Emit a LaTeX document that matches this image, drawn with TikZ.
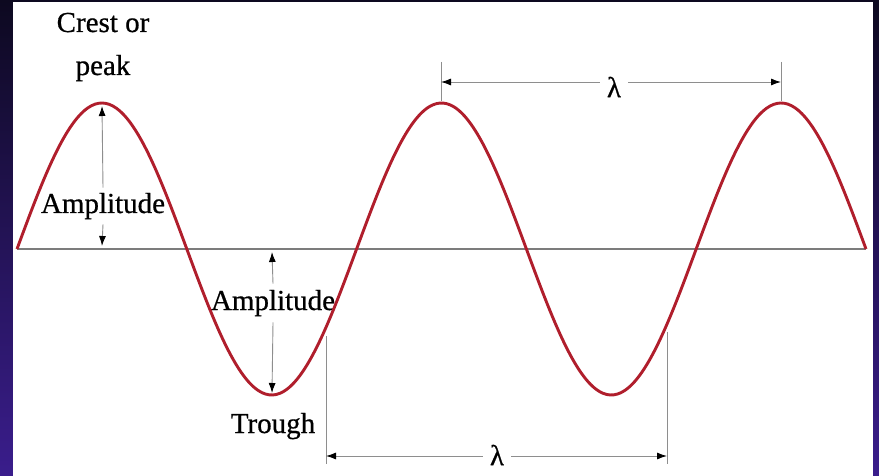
\documentclass[tikz,border=0pt]{standalone}
\usepackage{fontspec}
\setmainfont[FakeBold=0.6]{Liberation Serif}
\usetikzlibrary{arrows.meta}
\definecolor{wavered}{HTML}{B01E2C}
\definecolor{bgtop}{HTML}{0D0920}
\definecolor{bgbot}{HTML}{3A1D8C}
\definecolor{dimgray}{HTML}{8E8E8E}
\definecolor{axisgray}{HTML}{7C7C7C}
\begin{document}
\begin{tikzpicture}[x=1pt,y=-1pt,
  lbl/.style={font=\fontsize{29}{31}\selectfont, text=black, inner sep=0pt},
  lam/.style={font=\fontsize{29}{31}\selectfont, text=black, inner xsep=7pt, inner ysep=0pt},
  dimline/.style={draw=dimgray, line width=0.9pt},
  dimarrow/.style={dimline, -{Latex[length=10pt,width=7pt,color=black]}},
  wave/.style={draw=wavered, line width=2.9pt, line join=round}]
\useasboundingbox (0,0) rectangle (879,476);
% background
\shade[top color=bgtop, bottom color=bgbot] (0,0) rectangle (879,476);
\fill[white] (13,2) rectangle (873,476);
% key points
\coordinate (axL) at (17,249);
\coordinate (axR) at (866,249);
\coordinate (pk1) at (102,106);
\coordinate (ax1) at (102,246);
\coordinate (ax2) at (272,252);
\coordinate (tr1) at (272,393);
\coordinate (t1a) at (441,62);
\coordinate (t1b) at (441,101);
\coordinate (t2a) at (781,62);
\coordinate (t2b) at (781,101);
\coordinate (b1a) at (326,336);
\coordinate (b1b) at (326,464);
\coordinate (b2a) at (667,332);
\coordinate (b2b) at (667,464);
\coordinate (ltl) at (441,82);
\coordinate (ltr) at (781,82);
\coordinate (lbl1) at (326,456);
\coordinate (lbr) at (667,456);
% axis
\draw[draw=axisgray, line width=1.6pt] (axL) -- (axR);
% labels
\node[lbl, anchor=base] (crest) at (103,32) {Crest or};
\node[lbl, anchor=base] (peak) at (103,75) {peak};
\node[lbl, anchor=base, inner ysep=5pt] (amp1) at (103,213) {Amplitude};
\node[lbl, anchor=base, inner ysep=6pt] (amp2) at (273,310) {Amplitude};
\node[lbl, anchor=base] (trough) at (273,433) {Trough};
\node[lam] (lamtop) at (614,87) {λ};
\node[lam] (lambot) at (497,455) {λ};
% amplitude arrows
\draw[dimarrow] (amp1.north) -- (pk1);
\draw[dimarrow] (amp1.south) -- (ax1);
\draw[dimarrow] (amp2.north) -- (ax2);
\draw[dimarrow] (amp2.south) -- (tr1);
% wavelength ticks
\draw[dimline] (t1a) -- (t1b);
\draw[dimline] (t2a) -- (t2b);
\draw[dimline] (b1a) -- (b1b);
\draw[dimline] (b2a) -- (b2b);
% wavelength arrows
\draw[dimarrow] (lamtop.west |- ltl) -- (ltl);
\draw[dimarrow] (lamtop.east |- ltr) -- (ltr);
\draw[dimarrow] (lambot.west |- lbl1) -- (lbl1);
\draw[dimarrow] (lambot.east |- lbr) -- (lbr);
% wave
\draw[wave] plot[domain=17:866, samples=240, smooth] (\x, {249 - 146*sin(1.060071*(\x-17))});
\end{tikzpicture}
\end{document}
